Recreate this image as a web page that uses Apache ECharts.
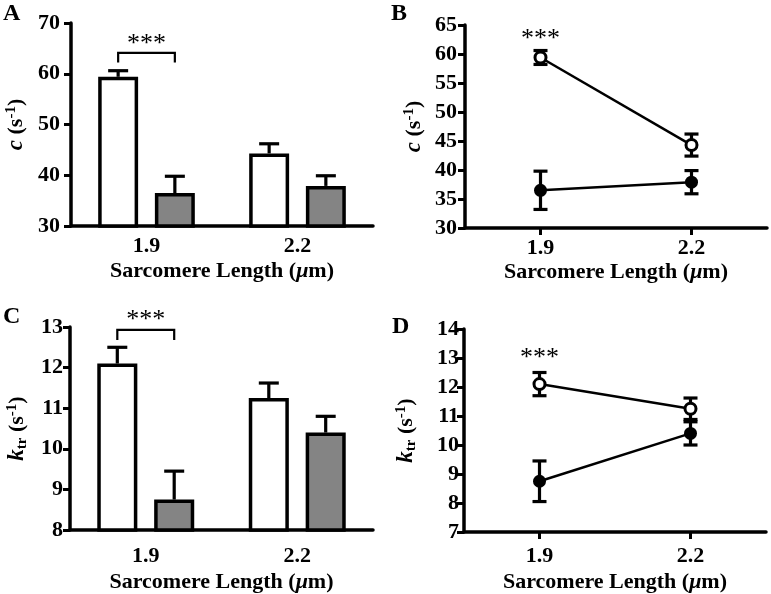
<!DOCTYPE html>
<html><head><meta charset="utf-8">
<script src="https://cdn.jsdelivr.net/npm/echarts@6/dist/echarts.min.js"></script>
<style>html,body{margin:0;padding:0;background:#fff}#c{width:771px;height:594px}</style>
</head><body><div id="c"></div>
<script>
// ---- data ----
const categories = ['1.9', '2.2'];
const cOpen = [59.4, 44.3];
const cOpenErr = [1.2, 1.9];
const cFilled = [36.5, 37.9];
const cFilledErr = [3.3, 2.0];
const ktrOpen = [12.1, 11.25];
const ktrOpenErr = [0.4, 0.37];
const ktrFilled = [8.75, 10.4];
const ktrFilledErr = [0.7, 0.4];
// significance annotations: [category index, bracket top, bracket end, stars y]
const sigA = [[0, 64.1, 62.2, 65.8]];
const sigC = [[0, 12.93, 12.68, 13.18]];
const sigB = [[0, 62.6]];
const sigD = [[0, 13.0]];

const FONT = 'Liberation Serif';
const BCG = 0.36, BG = 0.42;
const xName = '{n|Sarcomere Length (}{mu|μ}{n|m)}';
const xNameRich = {
  n: {fontFamily: FONT, fontWeight: 'bold', fontSize: 22, color: '#000'},
  mu: {fontFamily: FONT, fontWeight: 'bold', fontStyle: 'italic', fontSize: 22, color: '#000'}
};
const yRich = {
  i: {fontFamily: FONT, fontWeight: 'bold', fontStyle: 'italic', fontSize: 23, color: '#000'},
  n: {fontFamily: FONT, fontWeight: 'bold', fontSize: 22, color: '#000'},
  sup: {fontFamily: FONT, fontWeight: 'bold', fontSize: 15, color: '#000', verticalAlign: 'top', padding: [0, 0, 10, 0]},
  sub: {fontFamily: FONT, fontWeight: 'bold', fontSize: 15, color: '#000', verticalAlign: 'bottom', padding: [7, 0, 0, 0]}
};
const cName = '{i|c}{n| (s}{sup|-1}{n|)}';
const kName = '{i|k}{sub|tr}{n| (s}{sup|-1}{n|)}';

function pair(vals, errs) { return vals.map((v, i) => [i, v, errs[i]]); }

function barErr(sign) {
  return function (params, api) {
    const idx = api.value(0), v = api.value(1), e = api.value(2);
    const band = api.size([1, 0])[0];
    const bw = band * (1 - BCG) / (2 + BG);
    const off = sign * (bw + bw * BG) / 2;
    const p0 = api.coord([idx, v]);
    const p1 = api.coord([idx, v + e]);
    const x = p0[0] + off;
    const st = {stroke: '#000', lineWidth: 3.2};
    return {type: 'group', children: [
      {type: 'line', shape: {x1: x, y1: p0[1], x2: x, y2: p1[1]}, style: st},
      {type: 'line', shape: {x1: x - 10, y1: p1[1], x2: x + 10, y2: p1[1]}, style: st}
    ]};
  };
}
function lineErr(params, api) {
  const idx = api.value(0), v = api.value(1), e = api.value(2);
  const pt = api.coord([idx, v + e]);
  const pb = api.coord([idx, v - e]);
  const x = pt[0];
  const st = {stroke: '#000', lineWidth: 3.2};
  return {type: 'group', children: [
    {type: 'line', shape: {x1: x, y1: pt[1], x2: x, y2: pb[1]}, style: st},
    {type: 'line', shape: {x1: x - 7, y1: pt[1], x2: x + 7, y2: pt[1]}, style: st},
    {type: 'line', shape: {x1: x - 7, y1: pb[1], x2: x + 7, y2: pb[1]}, style: st}
  ]};
}
function bracket(params, api) {
  const idx = api.value(0);
  const band = api.size([1, 0])[0];
  const bw = band * (1 - BCG) / (2 + BG);
  const off = (bw + bw * BG) / 2;
  const pt = api.coord([idx, api.value(1)]);
  const pe = api.coord([idx, api.value(2)]);
  const ps = api.coord([idx, api.value(3)]);
  const x1 = pt[0] - off, x2 = pt[0] + off;
  return {type: 'group', children: [
    {type: 'polyline', shape: {points: [[x1, pe[1]], [x1, pt[1]], [x2, pt[1]], [x2, pe[1]]]},
      style: {stroke: '#000', lineWidth: 2.2, fill: null}},
    {type: 'text', x: pt[0], y: ps[1], style: {text: '***', fontFamily: FONT, fontSize: 26,
      fill: '#000', align: 'center', verticalAlign: 'middle'}}
  ]};
}
function stars(params, api) {
  const p = api.coord([api.value(0), api.value(1)]);
  return {type: 'text', x: p[0], y: p[1], style: {text: '***', fontFamily: FONT, fontSize: 26,
    fill: '#000', align: 'center', verticalAlign: 'middle'}};
}

const axisLine = {lineStyle: {color: '#000', width: 3.5}};
function xAxis(gi, ticks, margin, nameGap) {
  return {type: 'category', gridIndex: gi, data: categories, boundaryGap: true,
    axisLine: axisLine,
    axisTick: {show: ticks, alignWithLabel: true, length: 7, lineStyle: {color: '#000', width: 3}},
    axisLabel: {fontFamily: FONT, fontWeight: 'bold', fontSize: 22, color: '#000', margin: margin},
    name: xName, nameLocation: 'middle', nameGap: nameGap, nameTextStyle: {rich: xNameRich}};
}
function yAxis(gi, min, max, interval, name, margin, nameGap) {
  return {type: 'value', gridIndex: gi, min: min, max: max, interval: interval,
    axisLine: {show: true, lineStyle: {color: '#000', width: 3.5}},
    axisTick: {show: true, length: 7, lineStyle: {color: '#000', width: 3}},
    splitLine: {show: false},
    axisLabel: {fontFamily: FONT, fontWeight: 'bold', fontSize: 22, color: '#000', margin: margin},
    name: name, nameLocation: 'middle', nameRotate: 90, nameGap: nameGap,
    nameTextStyle: {rich: yRich}};
}
function letter(t, l, tp) {
  return {text: t, left: l, top: tp, padding: 0,
    textStyle: {fontFamily: FONT, fontWeight: 'bold', fontSize: 24, color: '#000'}};
}
const barStyleOpen = {color: '#fff', borderColor: '#000', borderWidth: 3.5};
const barStyleGray = {color: '#848484', borderColor: '#000', borderWidth: 3.5};

const option = {
  backgroundColor: '#fff',
  animation: false,
  title: [letter('A', 3, 2), letter('B', 391, 2), letter('C', 3, 305), letter('D', 392, 315)],
  grid: [
    {left: 71, top: 23, width: 302, height: 203},
    {left: 465, top: 25, width: 302, height: 203},
    {left: 70, top: 327, width: 303, height: 203},
    {left: 464, top: 329, width: 302, height: 204}
  ],
  xAxis: [xAxis(0, false, 9, 34), xAxis(1, true, 9, 33), xAxis(2, false, 15, 41), xAxis(3, true, 13, 39)],
  yAxis: [
    yAxis(0, 30, 70, 10, cName, 11, 42),
    yAxis(1, 30, 65, 5, cName, 8, 38),
    yAxis(2, 8, 13, 1, kName, 7, 40),
    yAxis(3, 7, 14, 1, kName, 5, 45)
  ],
  series: [
    // Panel A
    {type: 'bar', xAxisIndex: 0, yAxisIndex: 0, data: cOpen, barCategoryGap: '36%', barGap: '42%', itemStyle: barStyleOpen, z: 3},
    {type: 'bar', xAxisIndex: 0, yAxisIndex: 0, data: cFilled, barCategoryGap: '36%', barGap: '42%', itemStyle: barStyleGray, z: 3},
    {type: 'custom', xAxisIndex: 0, yAxisIndex: 0, data: pair(cOpen, cOpenErr), renderItem: barErr(-1), clip: false, z: 2},
    {type: 'custom', xAxisIndex: 0, yAxisIndex: 0, data: pair(cFilled, cFilledErr), renderItem: barErr(1), clip: false, z: 2},
    {type: 'custom', xAxisIndex: 0, yAxisIndex: 0, data: sigA, renderItem: bracket, clip: false, z: 4},
    // Panel C
    {type: 'bar', xAxisIndex: 2, yAxisIndex: 2, data: ktrOpen, barCategoryGap: '36%', barGap: '42%', itemStyle: barStyleOpen, z: 3},
    {type: 'bar', xAxisIndex: 2, yAxisIndex: 2, data: ktrFilled, barCategoryGap: '36%', barGap: '42%', itemStyle: barStyleGray, z: 3},
    {type: 'custom', xAxisIndex: 2, yAxisIndex: 2, data: pair(ktrOpen, ktrOpenErr), renderItem: barErr(-1), clip: false, z: 2},
    {type: 'custom', xAxisIndex: 2, yAxisIndex: 2, data: pair(ktrFilled, ktrFilledErr), renderItem: barErr(1), clip: false, z: 2},
    {type: 'custom', xAxisIndex: 2, yAxisIndex: 2, data: sigC, renderItem: bracket, clip: false, z: 4},
    // Panel B
    {type: 'custom', xAxisIndex: 1, yAxisIndex: 1, data: pair(cOpen, cOpenErr), renderItem: lineErr, clip: false, z: 2},
    {type: 'custom', xAxisIndex: 1, yAxisIndex: 1, data: pair(cFilled, cFilledErr), renderItem: lineErr, clip: false, z: 2},
    {type: 'line', xAxisIndex: 1, yAxisIndex: 1, data: cOpen, symbol: 'circle', symbolSize: 11,
      lineStyle: {color: '#000', width: 2.5}, itemStyle: {color: '#fff', borderColor: '#000', borderWidth: 3}, z: 5},
    {type: 'line', xAxisIndex: 1, yAxisIndex: 1, data: cFilled, symbol: 'circle', symbolSize: 13,
      lineStyle: {color: '#000', width: 2.5}, itemStyle: {color: '#000', borderColor: '#000', borderWidth: 0}, z: 5},
    {type: 'custom', xAxisIndex: 1, yAxisIndex: 1, data: sigB, renderItem: stars, clip: false, z: 4},
    // Panel D
    {type: 'custom', xAxisIndex: 3, yAxisIndex: 3, data: pair(ktrOpen, ktrOpenErr), renderItem: lineErr, clip: false, z: 2},
    {type: 'custom', xAxisIndex: 3, yAxisIndex: 3, data: pair(ktrFilled, ktrFilledErr), renderItem: lineErr, clip: false, z: 2},
    {type: 'line', xAxisIndex: 3, yAxisIndex: 3, data: ktrOpen, symbol: 'circle', symbolSize: 11,
      lineStyle: {color: '#000', width: 2.5}, itemStyle: {color: '#fff', borderColor: '#000', borderWidth: 3}, z: 5},
    {type: 'line', xAxisIndex: 3, yAxisIndex: 3, data: ktrFilled, symbol: 'circle', symbolSize: 13,
      lineStyle: {color: '#000', width: 2.5}, itemStyle: {color: '#000', borderColor: '#000', borderWidth: 0}, z: 5},
    {type: 'custom', xAxisIndex: 3, yAxisIndex: 3, data: sigD, renderItem: stars, clip: false, z: 4}
  ]
};
const chart = echarts.init(document.getElementById('c'));
chart.setOption(option);
</script>
</body></html>
